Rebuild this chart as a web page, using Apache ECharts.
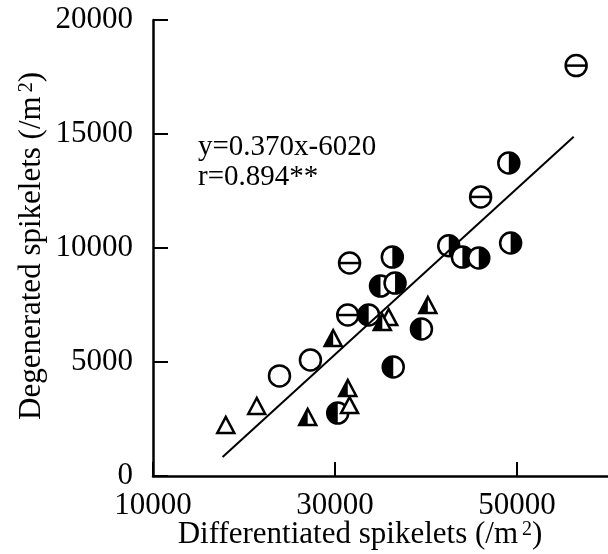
<!DOCTYPE html>
<html>
<head>
<meta charset="utf-8">
<script src="https://cdn.jsdelivr.net/npm/echarts@6/dist/echarts.min.js"></script>
<style>
html,body{margin:0;padding:0;background:#fff}
#main{width:608px;height:554px}
</style>
</head>
<body>
<div id="main"></div>
<script>
// 分化颖花数 vs 退化颖花数, 每种符号一组
var openCircle = [[27300, 5090], [23900, 4390]];
var barCircle = [[56500, 18000], [46000, 12240], [31600, 9340], [31400, 7060]];
var leftHalfCircle = [[35000, 8330], [33700, 7060], [39500, 6450], [36400, 4780], [30300, 2760]];
var rightHalfCircle = [[49100, 13730], [49300, 10220], [42500, 10100], [44000, 9600], [45800, 9560], [36300, 9600], [36600, 8460]];
var openTriangle = [[35900, 6970], [31600, 3110], [21400, 3070], [18000, 2240]];
var leftHalfTriangle = [[40200, 7500], [35200, 6750], [29800, 6050], [31400, 3860], [27000, 2590]];
var fitLine = [[17650, 830], [56230, 14880]];
var xTicks = [10000, 30000, 50000];
var eqText = ['y=0.370x-6020', 'r=0.894**'];
var xTitle = 'Differentiated spikelets (/m';
var yTitle = 'Degenerated spikelets (/m';

var serif = 'Liberation Serif';
var titleRich = {
    t: {fontFamily: serif, fontSize: 31, fill: '#000'},
    s: {fontFamily: serif, fontSize: 20, fill: '#000', verticalAlign: 'top', padding: [0, 0, 0, 4]}
};

function circleMark(kind) {
    return function (params, api) {
        var p = api.coord([api.value(0), api.value(1)]);
        var cx = p[0], cy = p[1], r = 10.5;
        var kids = [{type: 'circle', shape: {cx: cx, cy: cy, r: r}, style: {fill: '#fff'}}];
        if (kind == 'left') kids.push({type: 'sector', shape: {cx: cx, cy: cy, r0: 0, r: r, startAngle: Math.PI / 2, endAngle: Math.PI * 1.5}, style: {fill: '#000'}});
        if (kind == 'right') kids.push({type: 'sector', shape: {cx: cx, cy: cy, r0: 0, r: r, startAngle: -Math.PI / 2, endAngle: Math.PI / 2}, style: {fill: '#000'}});
        if (kind == 'bar') kids.push({type: 'line', shape: {x1: cx - r, y1: cy, x2: cx + r, y2: cy}, style: {stroke: '#000', lineWidth: 2.5}});
        kids.push({type: 'circle', shape: {cx: cx, cy: cy, r: r}, style: {fill: 'none', stroke: '#000', lineWidth: 2.5}});
        return {type: 'group', children: kids};
    };
}

function triMark(kind) {
    return function (params, api) {
        var p = api.coord([api.value(0), api.value(1)]);
        var cx = p[0], cy = p[1], w = 17, h = 16;
        var top = [cx, cy - h / 2], bl = [cx - w / 2, cy + h / 2], br = [cx + w / 2, cy + h / 2];
        var kids = [{type: 'polygon', shape: {points: [top, bl, br]}, style: {fill: '#fff'}}];
        if (kind == 'left') kids.push({type: 'polygon', shape: {points: [top, bl, [cx, cy + h / 2]]}, style: {fill: '#000'}});
        kids.push({type: 'polygon', shape: {points: [top, bl, br]}, style: {fill: 'none', stroke: '#000', lineWidth: 2.5, lineJoin: 'miter'}});
        return {type: 'group', children: kids};
    };
}

function markSeries(data, fn, z) {
    return {type: 'custom', coordinateSystem: 'cartesian2d', data: data, encode: {x: 0, y: 1}, renderItem: fn, clip: false, z: z};
}

function plain(v) { return String(v); }

var chart = echarts.init(document.getElementById('main'));
chart.setOption({
    animation: false,
    grid: {left: 153, right: 0, top: 20, bottom: 78, outerBoundsMode: 'none'},
    xAxis: {
        type: 'value', min: 10000, max: 60000, interval: 10000,
        axisLine: {lineStyle: {color: '#000', width: 2.5}},
        axisTick: {inside: true, length: 14, lineStyle: {color: '#000', width: 2}, customValues: xTicks},
        axisLabel: {fontFamily: serif, fontSize: 31, color: '#000', margin: 14, customValues: xTicks, formatter: plain},
        splitLine: {show: false}
    },
    yAxis: {
        type: 'value', min: 0, max: 20000, interval: 5000,
        axisLine: {show: true, lineStyle: {color: '#000', width: 2.5}},
        axisTick: {show: true, inside: true, length: 15, lineStyle: {color: '#000', width: 2}},
        axisLabel: {fontFamily: serif, fontSize: 31, color: '#000', margin: 20, formatter: plain},
        splitLine: {show: false}
    },
    graphic: [
        {type: 'text', x: 198, y: 147, style: {text: eqText[0], font: '29px "Liberation Serif"', fill: '#000', verticalAlign: 'middle'}},
        {type: 'text', x: 198, y: 177, style: {text: eqText[1], font: '29px "Liberation Serif"', fill: '#000', verticalAlign: 'middle'}},
        {type: 'text', x: 360, y: 535, style: {text: '{t|' + xTitle + '}{s|2}{t|)}', rich: titleRich, align: 'center', verticalAlign: 'middle'}},
        {type: 'text', x: 32, y: 246, rotation: Math.PI / 2, style: {text: '{t|' + yTitle + '}{s|2}{t|)}', rich: titleRich, align: 'center', verticalAlign: 'middle'}}
    ],
    series: [
        markSeries(barCircle, circleMark('bar'), 2),
        markSeries(leftHalfCircle, circleMark('left'), 2),
        markSeries(rightHalfCircle, circleMark('right'), 2),
        markSeries(openCircle, circleMark('open'), 2),
        markSeries(openTriangle, triMark('open'), 3),
        markSeries(leftHalfTriangle, triMark('left'), 3),
        {type: 'line', data: fitLine, symbol: 'none', z: 5, lineStyle: {color: '#000', width: 2}}
    ]
});
</script>
</body>
</html>
